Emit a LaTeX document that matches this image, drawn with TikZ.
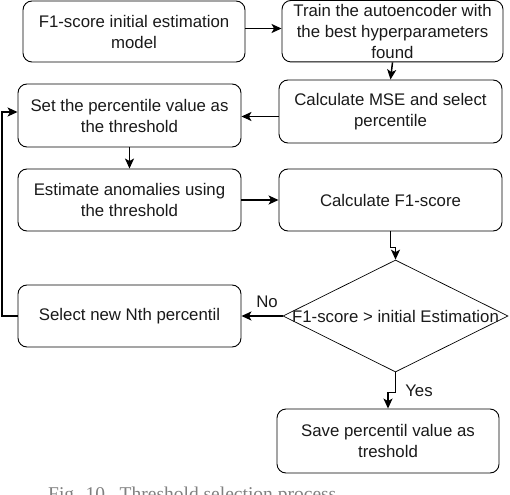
\documentclass[tikz,border=0pt]{standalone}
\usepackage{fontspec}
\setmainfont{Liberation Sans}
\newfontfamily\capfont{Liberation Serif}
\usetikzlibrary{arrows.meta,shapes.geometric}
\definecolor{txt}{HTML}{1A1A1A}
\begin{document}
\begin{tikzpicture}[x=1pt,y=-1pt,
  every node/.style={text=txt},
  box/.style={draw=black, line width=0.9pt, rounded corners=9pt, inner sep=0pt,
    align=center, font=\fontsize{16.8}{21}\selectfont},
  arr/.style={draw=black, line width=1.5pt, -{Stealth[length=10pt,width=9pt,inset=2.5pt]}},
  lbl/.style={font=\fontsize{16.8}{21}\selectfont, inner sep=0pt}]
\clip (0,0) rectangle (510,494);
\fill[white] (0,0) rectangle (510,494);

\node[box, minimum width=222, minimum height=61] (b1) at (134,31.5) {F1-score initial estimation\\model};
\node[box, minimum width=221, minimum height=61.5] (b2) at (392.5,31.2) {Train the autoencoder with\\the best hyperparameters\\found};
\node[box, minimum width=223, minimum height=63] (b3) at (390.5,111.5) {Calculate MSE and select\\percentile};
\node[box, minimum width=223, minimum height=63] (b4) at (129.5,115.5) {Set the percentile value as\\the threshold};
\node[box, minimum width=223, minimum height=62] (b5) at (129.5,200) {Estimate anomalies using\\the threshold};
\node[box, minimum width=223, minimum height=62] (b6) at (390.5,200) {Calculate F1-score};
\node[box, minimum width=223, minimum height=62] (b7) at (129.5,316) {Select new Nth percentil};
\node[box, minimum width=222, minimum height=64] (b8) at (388,441) {Save percentil value as\\treshold};

\node[draw=black, line width=0.7pt, diamond, minimum width=225, minimum height=112, inner sep=0pt] (d) at (395.5,316) {};
\node[lbl] (dt) at (d.center) {F1-score > initial Estimation};

\coordinate (loopb) at (2,316);
\coordinate (loopt) at (2,112);

\draw[arr] ([yshift=3]b1.east) -- ([yshift=3]b1.east -| b2.west);
\draw[arr] (b2.south) -- (b3.north);
\draw[arr] ([yshift=-5]b3.west) -- ([yshift=-5]b3.west -| b4.east);
\draw[arr] (b4.south) -- (b5.north);
\draw[arr] (b5.east) -- (b6.east -| b6.west);
\draw[arr] (b6.south) -- ++(0,16) -| (d.north);
\draw[arr] (d.west) -- (d.west -| b7.east);
\draw[arr] (d.south) -- ++(0,20) -| (b8.north);
\draw[arr] (b7.west) -- (loopb) -- (loopt) -- (loopt -| b4.west);

\node[lbl] (no) at (267,302) {No};
\node[lbl] (yes) at (419,391) {Yes};

\node[anchor=base west, inner sep=0pt, text=black!50, font=\capfont\fontsize{19.5}{22}\selectfont] (cap) at (48,500) {Fig. 10.\ \ Threshold selection process};
\end{tikzpicture}
\end{document}
